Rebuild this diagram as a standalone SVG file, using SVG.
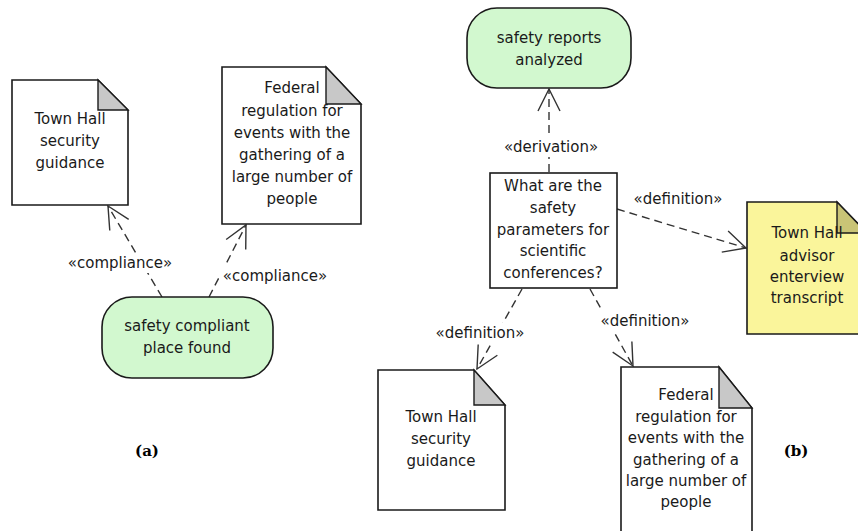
<svg xmlns="http://www.w3.org/2000/svg" width="858" height="531" viewBox="0 0 858 531">
  <style>
    .doc { fill: #ffffff; stroke: #1a1a1a; stroke-width: 1.6; }
    .fold { fill: #c8c8c8; stroke: #1a1a1a; stroke-width: 1.4; }
    .note { fill: #faf59b; stroke: #1a1a1a; stroke-width: 1.6; }
    .notefold { fill: #c9c476; stroke: #1a1a1a; stroke-width: 1.4; }
    .act { fill: #d2f8cf; stroke: #1a1a1a; stroke-width: 1.6; }
    .box { fill: #ffffff; stroke: #1a1a1a; stroke-width: 1.6; }
    .t { font-family: "DejaVu Sans", Verdana, sans-serif; font-size: 15px; fill: #1a1a1a; text-anchor: middle; }
    .lbl { font-family: "DejaVu Sans", Verdana, sans-serif; font-size: 15px; fill: #1a1a1a; text-anchor: middle; }
    .cap { font-family: "DejaVu Serif", "Liberation Serif", serif; font-size: 15px; font-weight: bold; fill: #000; text-anchor: middle; }
    .dep { fill: none; stroke: #333; stroke-width: 1.4; stroke-dasharray: 8 5; marker-end: url(#open); }
    .bg { fill: #ffffff; }
  </style>
  <defs>
    <marker id="open" markerUnits="userSpaceOnUse" markerWidth="30" markerHeight="30" viewBox="-26 -15 30 30" refX="0" refY="0" orient="auto">
      <path d="M -22 -11 L 0 0 L -22 11" fill="none" stroke="#333" stroke-width="1.4"/>
    </marker>
  </defs>

  <rect width="858" height="531" fill="#ffffff"/>

  <!-- connectors -->
  <g id="connectors">
    <!-- (a) -->
    <line class="dep" x1="162" y1="297" x2="108" y2="206"/>
    <line class="dep" x1="209" y1="297" x2="246" y2="225"/>
    <!-- (b) -->
    <line class="dep" x1="549" y1="172" x2="549" y2="89"/>
    <line class="dep" x1="617" y1="209" x2="746" y2="248"/>
    <line class="dep" x1="522" y1="289" x2="477" y2="369"/>
    <line class="dep" x1="590" y1="289" x2="633" y2="366"/>

    <rect class="bg" x="62" y="253" width="115" height="20"/>
    <text class="lbl" x="120" y="268">«compliance»</text>
    <rect class="bg" x="219" y="266" width="112" height="20"/>
    <text class="lbl" x="275" y="281">«compliance»</text>
    <rect class="bg" x="503" y="137" width="96" height="20"/>
    <text class="lbl" x="551" y="152">«derivation»</text>
    <text class="lbl" x="678" y="204">«definition»</text>
    <rect class="bg" x="434" y="323" width="93" height="20"/>
    <text class="lbl" x="480" y="338">«definition»</text>
    <rect class="bg" x="599" y="311" width="93" height="20"/>
    <text class="lbl" x="645" y="326">«definition»</text>
  </g>

  <!-- (a) nodes -->
  <g id="a-townhall-guidance">
    <path class="doc" d="M12 80 H98 L128 110 V205 H12 Z"/>
    <path class="fold" d="M98 80 V110 H128 Z"/>
    <text class="t" x="70" y="124">Town Hall</text>
    <text class="t" x="70" y="146">security</text>
    <text class="t" x="70" y="168">guidance</text>
  </g>

  <g id="a-federal-regulation">
    <path class="doc" d="M222 67 H326 L361 104 V224 H222 Z"/>
    <path class="fold" d="M326 67 V104 H361 Z"/>
    <text class="t" x="292" y="93">Federal</text>
    <text class="t" x="292" y="116">regulation for</text>
    <text class="t" x="292" y="138">events with the</text>
    <text class="t" x="292" y="160">gathering of a</text>
    <text class="t" x="292" y="182">large number of</text>
    <text class="t" x="292" y="204">people</text>
  </g>

  <g id="a-compliant-place">
    <rect class="act" x="102" y="297" width="171" height="81" rx="30" ry="30"/>
    <text class="t" x="187" y="331">safety compliant</text>
    <text class="t" x="187" y="353">place found</text>
  </g>

  <text class="cap" x="147" y="456">(a)</text>

  <!-- (b) nodes -->
  <g id="b-reports-analyzed">
    <rect class="act" x="467" y="8" width="164" height="80" rx="30" ry="30"/>
    <text class="t" x="549" y="43">safety reports</text>
    <text class="t" x="549" y="65">analyzed</text>
  </g>

  <g id="b-question">
    <rect class="box" x="490" y="173" width="127" height="115"/>
    <text class="t" x="553" y="191">What are the</text>
    <text class="t" x="553" y="213">safety</text>
    <text class="t" x="553" y="235">parameters for</text>
    <text class="t" x="553" y="256">scientific</text>
    <text class="t" x="553" y="278">conferences?</text>
  </g>

  <g id="b-advisor-transcript">
    <path class="note" d="M747 202 H837 L867 233 V334 H747 Z"/>
    <path class="notefold" d="M837 202 V233 H867 Z"/>
    <text class="t" x="807" y="238">Town Hall</text>
    <text class="t" x="807" y="261">advisor</text>
    <text class="t" x="807" y="282">enterview</text>
    <text class="t" x="807" y="303">transcript</text>
  </g>

  <g id="b-townhall-guidance">
    <path class="doc" d="M378 370 H474 L505 405 V510 H378 Z"/>
    <path class="fold" d="M474 370 V405 H505 Z"/>
    <text class="t" x="441" y="422">Town Hall</text>
    <text class="t" x="441" y="444">security</text>
    <text class="t" x="441" y="466">guidance</text>
  </g>

  <g id="b-federal-regulation">
    <path class="doc" d="M621 367 H719 L752 408 V545 H621 Z"/>
    <path class="fold" d="M719 367 V408 H752 Z"/>
    <text class="t" x="686" y="400">Federal</text>
    <text class="t" x="686" y="422">regulation for</text>
    <text class="t" x="686" y="443">events with the</text>
    <text class="t" x="686" y="465">gathering of a</text>
    <text class="t" x="686" y="486">large number of</text>
    <text class="t" x="686" y="507">people</text>
  </g>

  <text class="cap" x="796" y="456">(b)</text>
</svg>
